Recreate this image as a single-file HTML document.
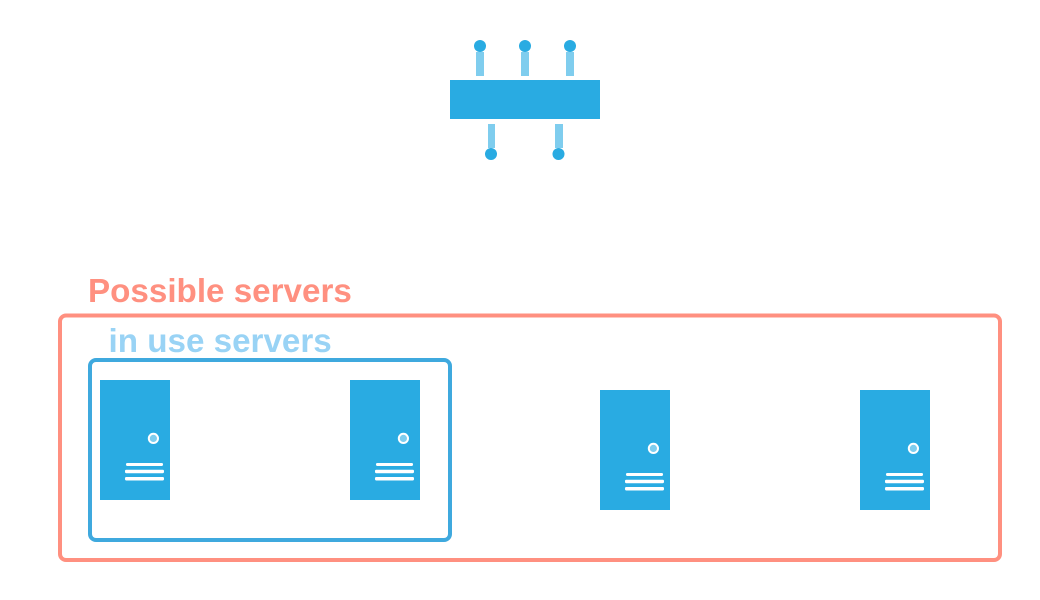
<!DOCTYPE html>
<html><head><meta charset="utf-8"><style>html,body{margin:0;padding:0;background:#fff;width:1040px;height:600px;overflow:hidden}svg{display:block}</style></head>
<body>
<svg xmlns="http://www.w3.org/2000/svg" width="1040" height="600" viewBox="0 0 1040 600">
<defs>
<g id="srv">
<rect x="0" y="0" width="70" height="120" fill="#29abe2"/>
<circle cx="53.4" cy="58.4" r="4.6" fill="#7fcdee" stroke="#fff" stroke-width="2"/>
<rect x="26" y="83" width="37" height="3" rx="1.2" fill="#fff"/>
<rect x="25" y="89.7" width="39" height="3.5" rx="1.2" fill="#fff"/>
<rect x="25" y="97" width="39" height="3.5" rx="1.2" fill="#fff"/>
</g>
</defs>
<rect x="450" y="80" width="150" height="39" fill="#29abe2"/>
<g fill="#7fcdee">
<rect x="476" y="52" width="8" height="24"/>
<rect x="521" y="52" width="8" height="24"/>
<rect x="566" y="52" width="8" height="24"/>
<rect x="488" y="124" width="7" height="24"/>
<rect x="555" y="124" width="8" height="24"/>
</g>
<g fill="#29abe2">
<circle cx="480" cy="46" r="6"/>
<circle cx="525" cy="46" r="6"/>
<circle cx="570" cy="46" r="6"/>
<circle cx="491" cy="154" r="6"/>
<circle cx="558.5" cy="154" r="6"/>
</g>
<text x="88" y="302" font-family="'Liberation Sans',sans-serif" font-weight="700" font-size="33.2" fill="#ff9080">Possible servers</text>
<rect x="60" y="315.5" width="940" height="244.5" rx="6" fill="none" stroke="#ff9080" stroke-width="4"/>
<text x="108.5" y="352" font-family="'Liberation Sans',sans-serif" font-weight="700" font-size="33.2" fill="#99d3f5">in use servers</text>
<rect x="90" y="360" width="360" height="180" rx="6" fill="none" stroke="#3fa9de" stroke-width="4"/>
<use href="#srv" x="100" y="380"/>
<use href="#srv" x="350" y="380"/>
<use href="#srv" x="600" y="390"/>
<use href="#srv" x="860" y="390"/>
</svg>
</body></html>
